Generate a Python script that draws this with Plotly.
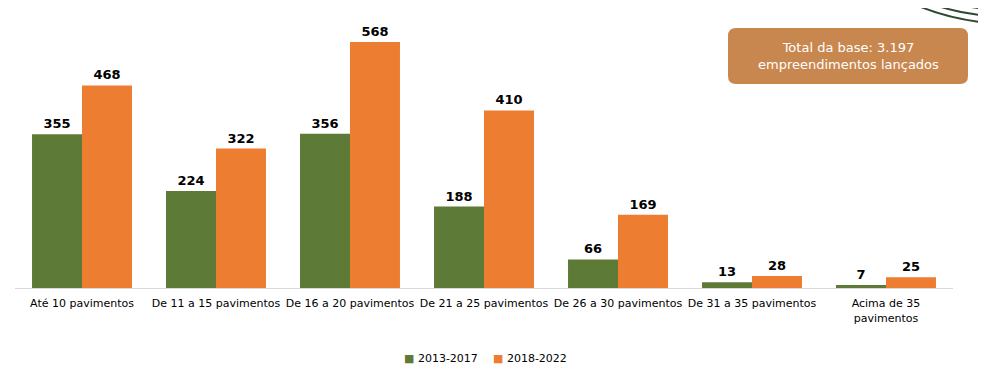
import plotly.graph_objects as go

categories = ["Até 10 pavimentos", "De 11 a 15 pavimentos", "De 16 a 20 pavimentos",
              "De 21 a 25 pavimentos", "De 26 a 30 pavimentos", "De 31 a 35 pavimentos",
              "Acima de 35<br>pavimentos"]
series_2013_2017 = [355, 224, 356, 188, 66, 13, 7]
series_2018_2022 = [468, 322, 568, 410, 169, 28, 25]
series_names = ["2013-2017", "2018-2022"]
box_text = "Total da base: 3.197<br>empreendimentos lançados"

OFF = 8  # browser body margin
W, H = 986 - OFF, 386 - OFF
L, R, T, B = 15 - OFF, 33, 20 - OFF, 98
pw, ph = W - L - R, H - T - B

def px(x):
    return (x - OFF - L) / pw

def py(y):
    return (H - B - (y - OFF)) / ph

def P(x, y):
    return f"{px(x):.5f},{py(y):.5f}"

GREEN = "#5E7A37"
ORANGE = "#ED7D31"
FONT = "DejaVu Sans"

fig = go.Figure()
colors = [GREEN, ORANGE]
for name, vals, col in zip(series_names, [series_2013_2017, series_2018_2022], colors):
    fig.add_bar(x=categories, y=vals, name=name, marker_color=col,
                marker_line_width=0,
                text=vals, textposition="outside",
                textfont=dict(family=FONT, size=13, color="#000000", weight="bold"),
                cliponaxis=False, showlegend=False)

shapes = []
x0, x1, y0, y1, r = 728, 968, 28, 84, 8
path = (f"M {P(x0+r,y0)} L {P(x1-r,y0)} Q {P(x1,y0)} {P(x1,y0+r)} L {P(x1,y1-r)} "
        f"Q {P(x1,y1)} {P(x1-r,y1)} L {P(x0+r,y1)} Q {P(x0,y1)} {P(x0,y1-r)} "
        f"L {P(x0,y0+r)} Q {P(x0,y0)} {P(x0+r,y0)} Z")
shapes.append(dict(type="path", xref="paper", yref="paper", path=path,
                   fillcolor="#C8874E", line=dict(width=0), layer="below"))
arcs = [(905, 0, 944, 19, 990, 23), (922, 0, 952, 13, 990, 16),
        (940, 0, 962, 7, 990, 9), (958, 0, 972, 3, 990, 4)]
for (ax, ay, cx, cy, bx, by) in arcs:
    shapes.append(dict(type="path", xref="paper", yref="paper",
                       path=f"M {P(ax,ay)} Q {P(cx,cy)} {P(bx,by)}",
                       line=dict(color="#2E4A2E", width=2), layer="below"))

legend_anns = []
for name, col, cx in zip(series_names, colors, [441, 530]):
    legend_anns.append(dict(x=px(cx), y=py(358), xref="paper", yref="paper",
                            text=f"<span style='color:{col}'>■</span> {name}",
                            showarrow=False, xanchor="center", yanchor="middle",
                            font=dict(family=FONT, size=11, color="#000000")))

fig.update_layout(
    width=W, height=H,
    margin=dict(l=L, r=R, t=T, b=B, autoexpand=False),
    paper_bgcolor="white", plot_bgcolor="rgba(0,0,0,0)",
    barmode="group", bargap=0.254, bargroupgap=0,
    font=dict(family=FONT, size=11, color="#000000"),
    showlegend=False,
    shapes=shapes,
    annotations=[dict(x=px(848), y=py(56), xref="paper", yref="paper", text=box_text,
                      showarrow=False, xanchor="center", yanchor="middle",
                      font=dict(family=FONT, size=13, color="white"),
                      align="center")] + legend_anns,
)
fig.update_xaxes(showline=True, linecolor="#D9D9D9", linewidth=1, ticks="",
                 ticklabelstandoff=5, tickangle=0,
                 tickfont=dict(family=FONT, size=11, color="#000000"), showgrid=False)
fig.update_yaxes(visible=False, range=[0, 619], showgrid=False)

fig.write_html("out.html")
